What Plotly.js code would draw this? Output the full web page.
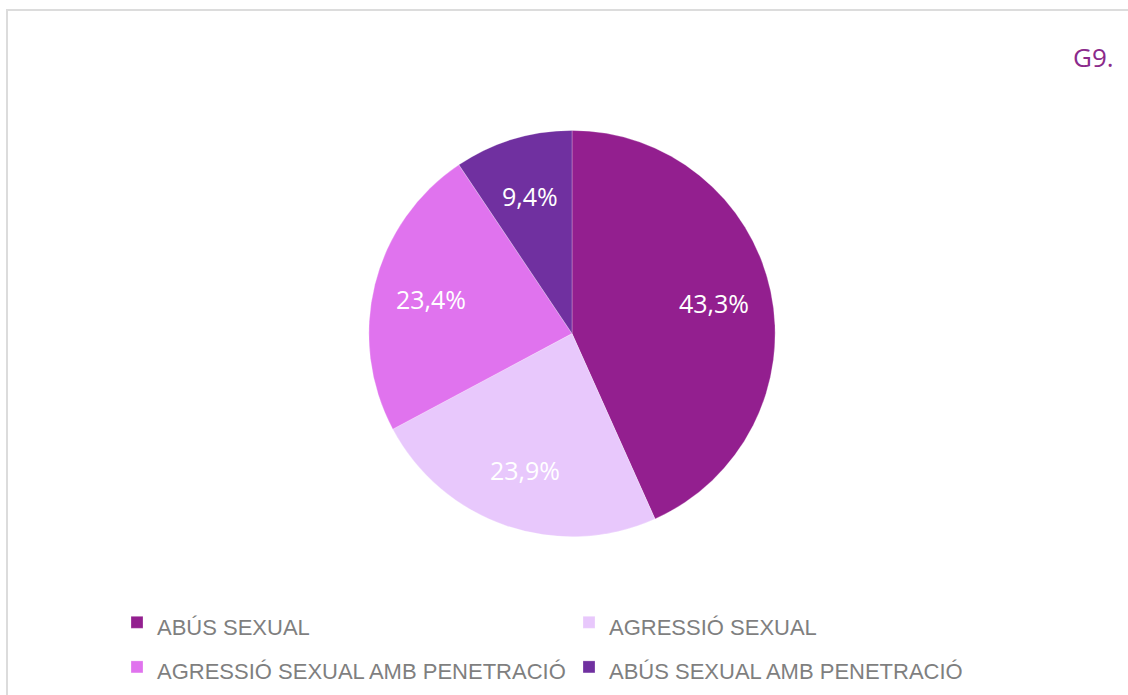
<!DOCTYPE html>
<html>
<head>
<meta charset="utf-8">
<script src="https://cdn.plot.ly/plotly-3.0.1.min.js"></script>
<style>html,body{margin:0;padding:0;background:#fff;}#chart{width:1128px;height:695px;}</style>
</head>
<body>
<div id="chart"></div>
<script>
const categories = ["ABÚS SEXUAL", "AGRESSIÓ SEXUAL", "AGRESSIÓ SEXUAL AMB PENETRACIÓ", "ABÚS SEXUAL AMB PENETRACIÓ"];
const values = [43.3, 23.9, 23.4, 9.4];
const colors = ["#931f8f", "#e8c8fc", "#e073ee", "#7030a0"];
const chartTitle = "G9.";

const W = 1128, H = 695;
const cx = 572, cy = 335, r = 204;
const labelFrac = 0.71;

// legend labels (larger legend font gives row spacing; visible text is 22px)
const legendLabels = categories.map(c => '<span style="font-size:22px">' + c + '</span>');

const trace = {
  type: "pie",
  labels: legendLabels,
  values: values,
  sort: false,
  direction: "clockwise",
  rotation: 0,
  marker: {colors: colors, line: {color: "rgba(255,255,255,0.5)", width: 0.5}},
  textinfo: "none",
  domain: {x: [(cx - r) / W, (cx + r) / W], y: [1 - (cy + r) / H, 1 - (cy - r) / H]},
  hoverinfo: "percent"
};

// percentage labels placed along each slice's mid-angle, derived from the values
const total = values.reduce((a, b) => a + b, 0);
let cum = 0;
const labelAnnots = values.map(v => {
  const mid = (cum + v / 2) / total * 2 * Math.PI;
  cum += v;
  const px = cx + Math.sin(mid) * r * labelFrac;
  const py = cy - Math.cos(mid) * r * labelFrac;
  return {
    text: (v / total * 100).toFixed(1).replace(".", ",") + "%",
    xref: "paper", yref: "paper", x: px / W, y: 1 - py / H,
    xanchor: "center", yanchor: "middle", showarrow: false,
    font: {family: "Open Sans, Noto Sans, sans-serif", size: 25, color: "#ffffff"}
  };
});

const layout = {
  width: W, height: H,
  margin: {l: 0, r: 0, t: 0, b: 0},
  paper_bgcolor: "#ffffff",
  separators: ",.",
  showlegend: true,
  legend: {
    orientation: "h",
    x: 117 / W, xanchor: "left",
    y: 1 - 598 / H, yanchor: "top",
    entrywidth: 407, entrywidthmode: "pixels",
    font: {family: "Liberation Sans, Arial, sans-serif", size: 32, color: "#7f7f7f"},
    traceorder: "normal",
    itemclick: false
  },
  shapes: [
    {type: "line", xref: "paper", yref: "paper", x0: 6 / W, x1: 1.01, y0: 1 - 10 / H, y1: 1 - 10 / H, line: {color: "#dcdcdc", width: 2}},
    {type: "line", xref: "paper", yref: "paper", x0: 7 / W, x1: 7 / W, y0: 1 - 9 / H, y1: -0.01, line: {color: "#dcdcdc", width: 2}}
  ],
  annotations: [
    {text: chartTitle, xref: "paper", yref: "paper", x: 1116 / W, y: 1 - 57 / H, xanchor: "right", yanchor: "middle", showarrow: false,
     font: {family: "Open Sans, Noto Sans, sans-serif", size: 26, color: "#8b2a8b"}}
  ].concat(labelAnnots)
};

Plotly.newPlot("chart", [trace], layout, {displayModeBar: false, staticPlot: true});
</script>
</body>
</html>
